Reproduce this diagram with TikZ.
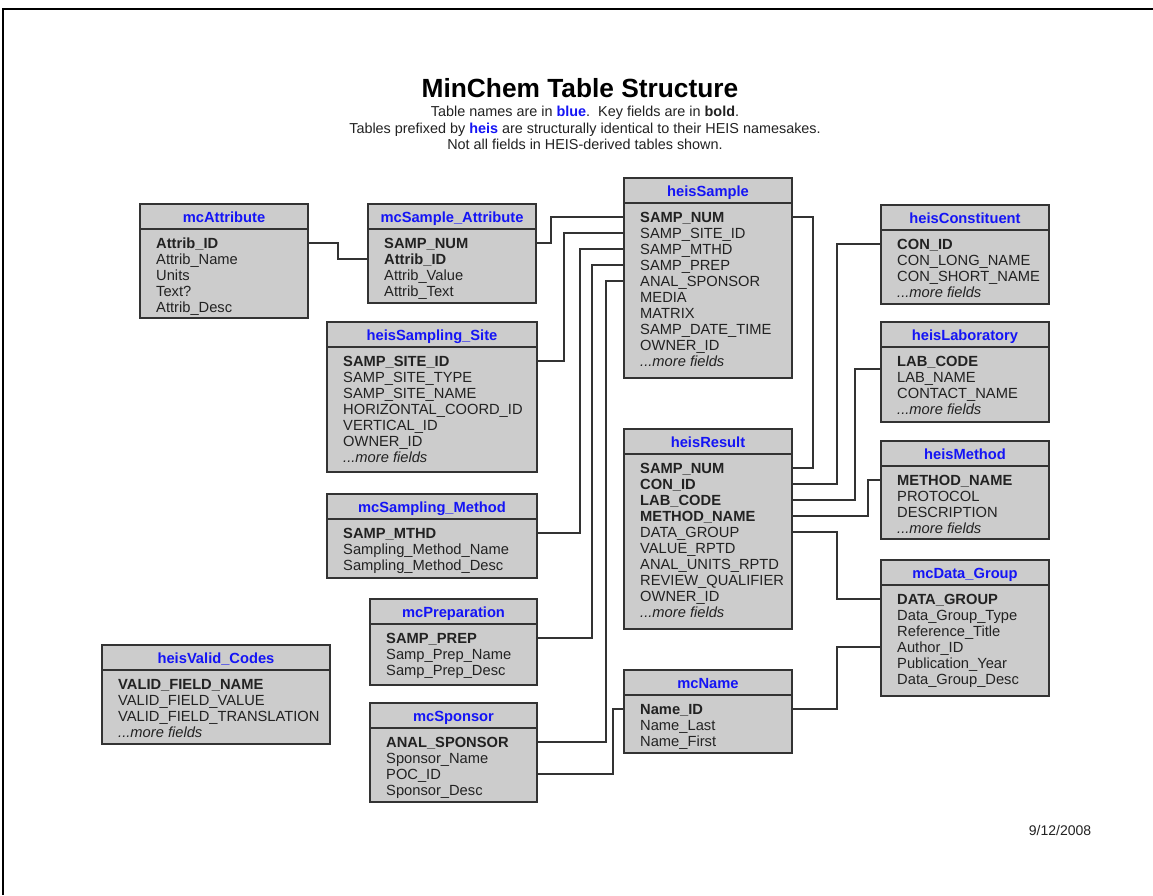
\documentclass[tikz,border=0pt]{standalone}
\usepackage{fontspec}
\setmainfont{Liberation Sans}
\usetikzlibrary{calc}
\definecolor{tblgray}{RGB}{204,204,204}
\definecolor{tblblue}{RGB}{20,20,245}
\definecolor{txt}{RGB}{34,34,34}
\definecolor{edge}{RGB}{51,51,51}
\tikzset{
  tbl/.style={draw=edge, fill=tblgray, line width=1.5pt, inner sep=0pt, outer sep=0pt, rectangle},
  tblsep/.style={draw=edge, line width=1.5pt},
  ttl/.style={font=\fontsize{14.7}{16}\selectfont\bfseries, text=tblblue, inner sep=0pt, text height=10.5pt, text depth=0pt},
  fld/.style={font=\fontsize{14.7}{16}\selectfont, text=txt, inner sep=0pt, text height=10.5pt, text depth=0pt, anchor=west},
  conn/.style={draw=edge, line width=1.3pt},
  heading/.style={font=\fontsize{26.3}{30}\selectfont\bfseries, inner sep=0pt},
  subhead/.style={font=\fontsize{14.4}{16}\selectfont, inner sep=0pt, text=txt, text height=10.3pt, text depth=0pt},
}
\newcommand\dbt[7]{%
  \node[tbl, minimum width=#4pt, minimum height=#5pt, anchor=north west] (#1) at (#2,#3) {};
  \draw[tblsep] ([yshift=-25pt]#1.north west) -- ([yshift=-25pt]#1.north east);
  \node[ttl] (#1-t) at ([yshift=-13pt]#1.north) {#6};
  \foreach \f [count=\i] in {#7} {
    \node[fld] (#1-\i) at ([xshift=16pt,yshift={-23pt-16pt*\i}]#1.north west) {\f};
  }%
}
\begin{document}
\begin{tikzpicture}[x=1pt, y=-1pt]
\useasboundingbox (0,0) rectangle (1153,895);
\fill[white] (0,0) rectangle (1153,895);
\draw[line width=2pt, black] (3,895) -- (3,9) -- (1153,9);

% title
\node[heading] (title) at (580,88) {MinChem Table Structure};
\node[subhead] (sub1) at (585,111) {Table names are in \textcolor{tblblue}{\textbf{blue}}.\ \ Key fields are in \textbf{bold}.};
\node[subhead] (sub2) at (585,128) {Tables prefixed by \textcolor{tblblue}{\textbf{heis}} are structurally identical to their HEIS namesakes.};
\node[subhead] (sub3) at (585,144) {Not all fields in HEIS-derived tables shown.};
\node[subhead, font=\fontsize{14}{16}\selectfont] (date) at (1060,830) {9/12/2008};

% tables
\dbt{att}{140}{204}{168}{114}{mcAttribute}{\textbf{Attrib\_ID}, Attrib\_Name, Units, Text?, Attrib\_Desc}
\dbt{sa}{368}{204}{168}{99}{mcSample\_Attribute}{\textbf{SAMP\_NUM}, \textbf{Attrib\_ID}, Attrib\_Value, Attrib\_Text}
\dbt{hs}{624}{178}{168}{200}{heisSample}{\textbf{SAMP\_NUM}, SAMP\_SITE\_ID, SAMP\_MTHD, SAMP\_PREP, ANAL\_SPONSOR, MEDIA, MATRIX, SAMP\_DATE\_TIME, OWNER\_ID, \textit{...more fields}}
\dbt{ss}{327}{322}{210}{150}{heisSampling\_Site}{\textbf{SAMP\_SITE\_ID}, SAMP\_SITE\_TYPE, SAMP\_SITE\_NAME, HORIZONTAL\_COORD\_ID, VERTICAL\_ID, OWNER\_ID, \textit{...more fields}}
\dbt{sm}{327}{494}{210}{84}{mcSampling\_Method}{\textbf{SAMP\_MTHD}, Sampling\_Method\_Name, Sampling\_Method\_Desc}
\dbt{pr}{370}{599}{167}{86}{mcPreparation}{\textbf{SAMP\_PREP}, Samp\_Prep\_Name, Samp\_Prep\_Desc}
\dbt{sp}{370}{703}{167}{99}{mcSponsor}{\textbf{ANAL\_SPONSOR}, Sponsor\_Name, POC\_ID, Sponsor\_Desc}
\dbt{vc}{102}{645}{228}{99}{heisValid\_Codes}{\textbf{VALID\_FIELD\_NAME}, VALID\_FIELD\_VALUE, VALID\_FIELD\_TRANSLATION, \textit{...more fields}}
\dbt{hr}{624}{429}{168}{200}{heisResult}{\textbf{SAMP\_NUM}, \textbf{CON\_ID}, \textbf{LAB\_CODE}, \textbf{METHOD\_NAME}, DATA\_GROUP, VALUE\_RPTD, ANAL\_UNITS\_RPTD, REVIEW\_QUALIFIER, OWNER\_ID, \textit{...more fields}}
\dbt{nm}{624}{670}{168}{83}{mcName}{\textbf{Name\_ID}, Name\_Last, Name\_First}
\dbt{co}{881}{205}{168}{99}{heisConstituent}{\textbf{CON\_ID}, CON\_LONG\_NAME, CON\_SHORT\_NAME, \textit{...more fields}}
\dbt{lb}{881}{322}{168}{100}{heisLaboratory}{\textbf{LAB\_CODE}, LAB\_NAME, CONTACT\_NAME, \textit{...more fields}}
\dbt{me}{881}{441}{168}{98}{heisMethod}{\textbf{METHOD\_NAME}, PROTOCOL, DESCRIPTION, \textit{...more fields}}
\dbt{dg}{881}{560}{168}{136}{mcData\_Group}{\textbf{DATA\_GROUP}, Data\_Group\_Type, Reference\_Title, Author\_ID, Publication\_Year, Data\_Group\_Desc}

% bend columns
\coordinate (vA) at (338,0);
\coordinate (vB) at (551,0);
\coordinate (vC) at (564,0);
\coordinate (vD) at (580,0);
\coordinate (vE) at (592,0);
\coordinate (vF) at (606,0);
\coordinate (vG) at (613,0);
\coordinate (vH) at (813,0);
\coordinate (vI) at (837,0);
\coordinate (vJ) at (855,0);
\coordinate (vK) at (868,0);
\coordinate (vL) at (837,0);
\coordinate (vM) at (837,0);
\coordinate (lbk) at ($(lb-1.west)!0.5!(lb-2.west)$);

% connectors
\draw[conn, line width=2pt] (att.east |- att-1) -- (vA |- att-1) -- (vA |- sa-2) -- (sa.west |- sa-2);
\draw[conn] (sa.east |- sa-1) -- (vB |- sa-1) -- (vB |- hs-1) -- (hs.west |- hs-1);
\draw[conn] (ss.east |- ss-1) -- (vC |- ss-1) -- (vC |- hs-2) -- (hs.west |- hs-2);
\draw[conn] (sm.east |- sm-1) -- (vD |- sm-1) -- (vD |- hs-3) -- (hs.west |- hs-3);
\draw[conn] (pr.east |- pr-1) -- (vE |- pr-1) -- (vE |- hs-4) -- (hs.west |- hs-4);
\draw[conn] (sp.east |- sp-1) -- (vF |- sp-1) -- (vF |- hs-5) -- (hs.west |- hs-5);
\draw[conn] (sp.east |- sp-3) -- (vG |- sp-3) -- (vG |- nm-1) -- (nm.west |- nm-1);
\draw[conn] (hr.east |- hr-1) -- (vH |- hr-1) -- (vH |- hs-1) -- (hs.east |- hs-1);
\draw[conn] (hr.east |- hr-2) -- (vI |- hr-2) -- (vI |- co-1) -- (co.west |- co-1);
\draw[conn] (hr.east |- hr-3) -- (vJ |- hr-3) -- (vJ |- lbk) -- (lb.west |- lbk);
\draw[conn] (hr.east |- hr-4) -- (vK |- hr-4) -- (vK |- me-1) -- (me.west |- me-1);
\draw[conn] (hr.east |- hr-5) -- (vL |- hr-5) -- (vL |- dg-1) -- (dg.west |- dg-1);
\draw[conn] (nm.east |- nm-1) -- (vM |- nm-1) -- (vM |- dg-4) -- (dg.west |- dg-4);
\end{tikzpicture}
\end{document}
